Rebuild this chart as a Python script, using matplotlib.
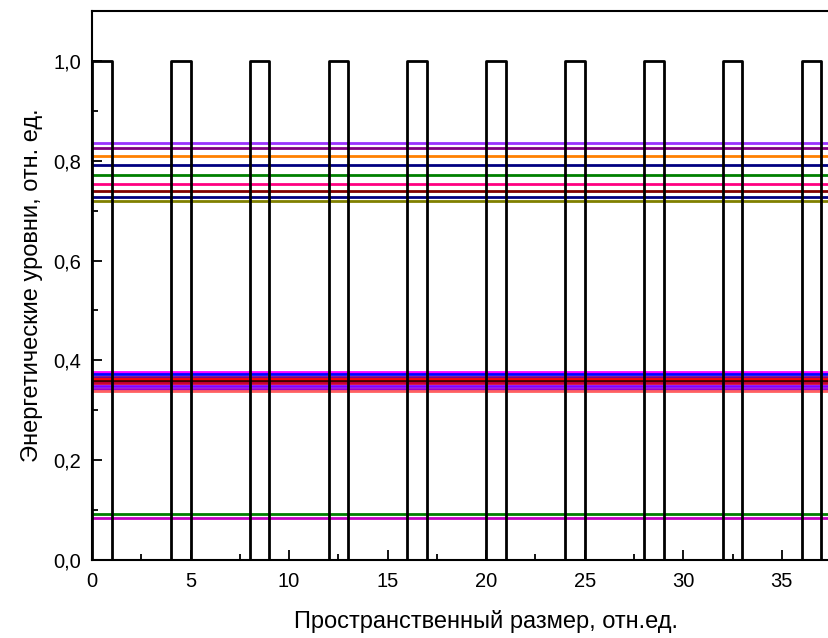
import matplotlib
matplotlib.use("Agg")
import matplotlib.pyplot as plt
from matplotlib.ticker import MultipleLocator, FuncFormatter

plt.rcParams['font.family'] = ['Liberation Sans', 'DejaVu Sans']

# Barrier potential (periodic rectangular barriers of height 1)
barrier_starts = [0, 4, 8, 12, 16, 20, 24, 28, 32, 36]
barrier_width = 1
barrier_height = 1.0

# Energy levels (three bands)
levels_band1 = [0.835, 0.825, 0.809, 0.791, 0.771, 0.754, 0.740, 0.728, 0.719]
colors_band1 = ['#9933FF', '#800080', '#FF8000', '#000080', '#008000',
                '#FF0080', '#800000', '#000080', '#808000']
levels_band2 = [0.377, 0.372, 0.366, 0.362, 0.358, 0.354, 0.349, 0.343, 0.338]
colors_band2 = ['#FF00FF', '#0000FF', '#800080', '#FF0000', '#400000',
                '#CC0033', '#8000FF', '#9900CC', '#FF6060']
levels_band3 = [0.092, 0.085]
colors_band3 = ['#008000', '#C000C0']

x_ticks = [0, 5, 10, 15, 20, 25, 30, 35]
x_label = 'Пространственный размер, отн.ед.'
y_label = 'Энергетические уровни, отн. ед.'

# build potential profile
px, py = [], []
for s in barrier_starts:
    px += [s, s, s + barrier_width, s + barrier_width]
    py += [0, barrier_height, barrier_height, 0]
px.append(40)
py.append(0)

fig = plt.figure(figsize=(8.29, 6.38), dpi=100)
ax = fig.add_axes([0.111, 0.1223, 0.951, 0.8605])

for lv, c in zip(levels_band1 + levels_band2 + levels_band3,
                 colors_band1 + colors_band2 + colors_band3):
    ax.axhline(lv, color=c, lw=2.0, zorder=2)

ax.plot(px, py, color='black', lw=2.0, zorder=3)

ax.set_xlim(0, 40)
ax.set_ylim(0, 1.1)
ax.set_xticks(x_ticks)
ax.set_xticklabels([str(t) for t in x_ticks])
ax.set_xticks([2.5 + 5 * i for i in range(8)], minor=True)
ax.yaxis.set_major_locator(MultipleLocator(0.2))
ax.yaxis.set_minor_locator(MultipleLocator(0.1))
ax.yaxis.set_major_formatter(FuncFormatter(lambda v, p: f'{v:.1f}'.replace('.', ',')))
ax.tick_params(which='both', direction='in', labelsize=14.5, width=1.3)
ax.tick_params(which='major', length=7)
ax.tick_params(which='minor', length=4)
ax.tick_params(axis='x', pad=9)
ax.tick_params(axis='y', pad=8)
for sp in ax.spines.values():
    sp.set_linewidth(1.5)

ax.set_xlabel(x_label, fontsize=17, labelpad=13)
ax.set_ylabel(y_label, fontsize=17, labelpad=7)

fig.savefig('out.png', dpi=100)
